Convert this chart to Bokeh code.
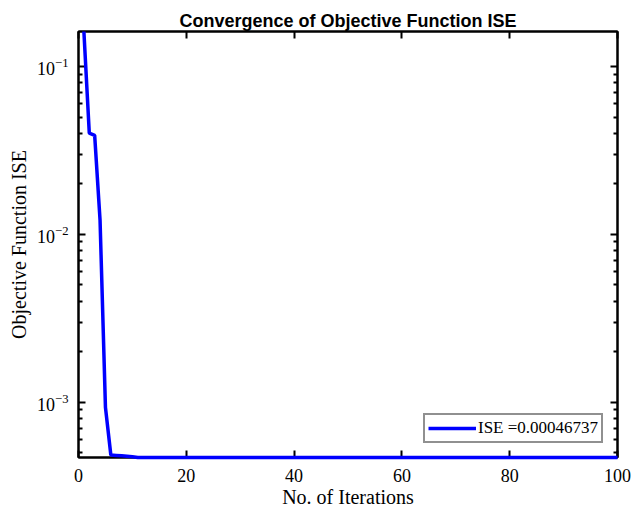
from bokeh.plotting import figure
from bokeh.models import (Range1d, LogAxis, LinearAxis, FixedTicker, Legend,
                          LegendItem, Title)
from bokeh.embed import file_html
from bokeh.resources import INLINE

# Objective function value (ISE) at each iteration of the optimiser
iterations = list(range(1, 101))
ise_early = [0.1618, 0.0401, 0.0389, 0.0121, 0.00093, 0.000484,
             0.000481, 0.000478, 0.000475, 0.000472]
ise_final = 0.00046737
ise = ise_early + [ise_final] * (len(iterations) - len(ise_early))

x_ticks = [0, 20, 40, 60, 80, 100]
y_major = [1e-3, 1e-2, 1e-1]
y_minor = [m * d for d in (1e-4, 1e-3, 1e-2, 1e-1) for m in range(2, 10)]
legend_text = "ISE =0.00046737"

serif = "Liberation Serif"

p = figure(width=634, height=511, output_backend="svg", toolbar_location=None,
           y_axis_type="log",
           x_range=Range1d(0, 100), y_range=Range1d(ise_final, max(ise)),
           min_border_left=78, min_border_right=17,
           min_border_top=31, min_border_bottom=54,
           background_fill_color="white", border_fill_color="white")

p.title = Title(text="Convergence of Objective Function ISE",
                text_font="Liberation Sans", text_font_size="18px",
                text_font_style="bold", text_color="black",
                align="center", offset=0, standoff=1)
p.grid.visible = False
p.outline_line_color = "black"
p.outline_line_width = 2

def style_axis(ax, labels=True, minor=True):
    ax.axis_line_color = "black"
    ax.axis_line_width = 2
    ax.major_tick_in = 7
    ax.major_tick_out = 0
    ax.major_tick_line_width = 2
    ax.major_tick_line_color = "black"
    if minor:
        ax.minor_tick_in = 4
        ax.minor_tick_out = 0
        ax.minor_tick_line_width = 2
        ax.minor_tick_line_color = "black"
    else:
        ax.minor_tick_line_color = None
    ax.major_label_text_font = serif
    ax.major_label_text_font_size = "18px"
    ax.major_label_text_color = "black"
    ax.axis_label_text_color = "black"
    if not labels:
        ax.major_label_text_font_size = "0px"
        ax.major_label_text_color = None

xt = FixedTicker(ticks=x_ticks)
yt = FixedTicker(ticks=y_major, minor_ticks=y_minor)

xb = p.xaxis[0]
xb.ticker = xt
style_axis(xb, minor=False)
xb.major_label_standoff = 11
xb.axis_label = "No. of Iterations"
xb.axis_label_text_font = serif
xb.axis_label_text_font_size = "20px"
xb.axis_label_text_font_style = "normal"
xb.axis_label_standoff = 1

yl = p.yaxis[0]
yl.ticker = yt
style_axis(yl)
yl.major_label_standoff = 10
yl.axis_label = "Objective Function ISE"
yl.axis_label_text_font = serif
yl.axis_label_text_font_size = "20px"
yl.axis_label_text_font_style = "normal"
yl.axis_label_standoff = 4

xtop = LinearAxis(ticker=xt)
style_axis(xtop, labels=False, minor=False)
p.add_layout(xtop, "above")

yr = LogAxis(ticker=yt)
style_axis(yr, labels=False)
p.add_layout(yr, "right")

r = p.line(iterations, ise, line_color="#0000FF", line_width=3.5,
           level="overlay")

legend = Legend(items=[LegendItem(label=legend_text, renderers=[r])],
                location=(345, 14), orientation="vertical",
                label_text_font=serif, label_text_font_size="17px",
                label_text_color="black",
                label_standoff=2, glyph_width=48, glyph_height=18,
                label_height=18, padding=3, margin=0, spacing=0,
                border_line_color="#222222", border_line_width=2,
                background_fill_color="white", background_fill_alpha=1.0)
p.add_layout(legend, "center")

open("out.html", "w").write(file_html(p, INLINE))
